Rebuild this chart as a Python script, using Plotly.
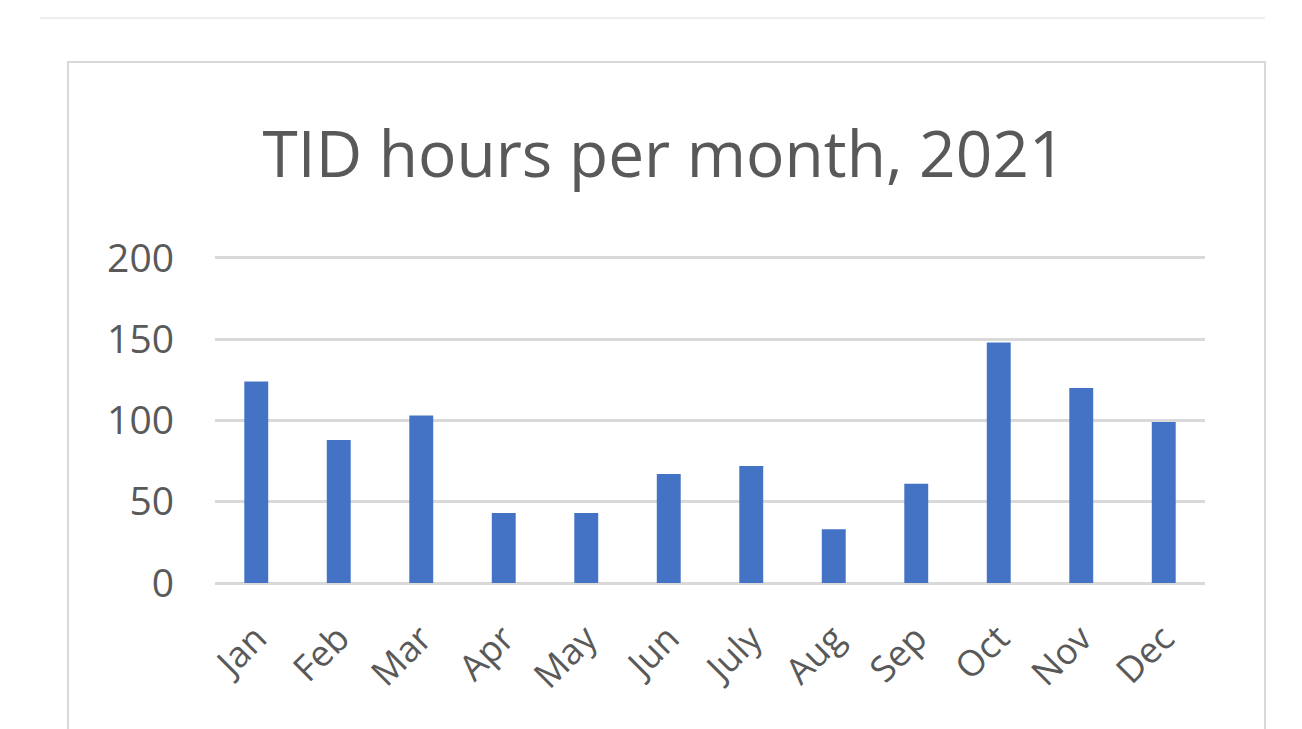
import plotly.graph_objects as go

months = ["Jan", "Feb", "Mar", "Apr", "May", "Jun", "July", "Aug", "Sep", "Oct", "Nov", "Dec"]
hours = [124, 88, 103, 43, 43, 67, 72, 33, 61, 148, 120, 99]
y_ticks = [0, 50, 100, 150, 200]

W, H = 1302, 729
L, R, T, B = 215, 1205, 256, 583  # plot area in pixels
Y_MAX = 201.2  # a little headroom so the 200 gridline is drawn


def px_x(px):
    return (px - L) / (R - L)


def px_y(py):
    return (B - py) / (B - T)


fig = go.Figure(
    go.Bar(
        x=months,
        y=hours,
        marker=dict(color="#4472C4", line=dict(width=0)),
        width=0.29,
    )
)

grey_text = "#595959"
fig.update_layout(
    width=W,
    height=H,
    margin=dict(l=L, r=W - R, t=T, b=H - B),
    paper_bgcolor="white",
    plot_bgcolor="white",
    font=dict(family="Open Sans, Noto Sans, sans-serif", color=grey_text),
    showlegend=False,
    title=dict(
        text="TID hours per month, 2021",
        x=px_x(664),
        xref="paper",
        xanchor="center",
        y=1 - 155 / H,
        yref="container",
        yanchor="middle",
        font=dict(size=64, color=grey_text),
    ),
    xaxis=dict(
        tickangle=-45,
        tickfont=dict(size=36, color=grey_text),
        showgrid=False,
        showline=False,
        ticks="",
        ticklabelstandoff=26,
    ),
    yaxis=dict(
        range=[0, Y_MAX],
        tickvals=y_ticks,
        tickfont=dict(size=39, color=grey_text),
        showgrid=True,
        gridcolor="#d9d9d9",
        gridwidth=3,
        zeroline=True,
        zerolinecolor="#d9d9d9",
        zerolinewidth=3,
        showline=False,
        ticks="",
        ticklabelstandoff=40,
    ),
    shapes=[
        # outer chart frame
        dict(
            type="rect",
            xref="paper",
            yref="paper",
            x0=px_x(68),
            x1=px_x(1265),
            y0=px_y(760),
            y1=px_y(62),
            line=dict(color="#d9d9d9", width=2),
            fillcolor="rgba(0,0,0,0)",
            layer="below",
        ),
        # faint rule above the frame
        dict(
            type="line",
            xref="paper",
            yref="paper",
            x0=px_x(40),
            x1=px_x(1265),
            y0=px_y(18),
            y1=px_y(18),
            line=dict(color="#eeeeee", width=2),
            layer="below",
        ),
    ],
)

fig.write_html("out.html")
